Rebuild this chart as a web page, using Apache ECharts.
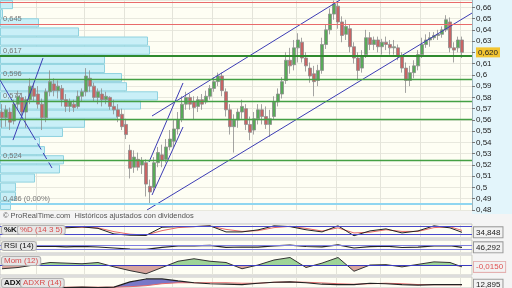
<!DOCTYPE html>
<html><head><meta charset="utf-8">
<script src="https://cdn.jsdelivr.net/npm/echarts@6/dist/echarts.min.js"></script>
<style>html,body{margin:0;padding:0;background:#f4f4f4}#c{width:512px;height:288px}</style>
</head><body><div id="c"></div>
<script>
// ---------- DATA ----------
// daily candles [open, close, low, high]
const candles = [
[.567,.562,.553,.574],[.562,.569,.554,.573],[.567,.558,.551,.571],[.559,.574,.556,.578],[.574,.581,.569,.586],
[.580,.567,.563,.584],[.567,.578,.553,.581],[.578,.590,.574,.597],[.588,.581,.576,.593],[.583,.574,.570,.590],
[.574,.562,.551,.579],[.562,.585,.558,.588],[.585,.594,.581,.604],[.592,.586,.581,.597],[.586,.590,.579,.595],
[.588,.578,.572,.591],[.578,.572,.567,.583],[.572,.576,.567,.579],[.574,.571,.567,.578],[.572,.581,.570,.586],
[.581,.585,.576,.588],[.585,.599,.581,.606],[.597,.590,.585,.604],[.590,.580,.576,.593],[.580,.585,.574,.588],
[.583,.578,.572,.588],[.578,.581,.574,.585],[.580,.572,.569,.581],[.572,.569,.565,.578],[.569,.563,.558,.574],
[.565,.554,.551,.570],[.556,.547,.543,.561],[.533,.517,.508,.538],[.518,.527,.513,.533],[.525,.518,.515,.531],
[.520,.524,.512,.527],[.522,.503,.492,.525],[.501,.496,.486,.507],[.500,.522,.496,.527],[.522,.531,.518,.536],
[.529,.524,.518,.538],[.525,.536,.522,.543],[.536,.543,.533,.551],[.541,.552,.536,.560],[.552,.560,.547,.567],
[.561,.574,.558,.581],[.574,.580,.569,.585],[.580,.574,.569,.583],[.576,.571,.560,.581],[.572,.578,.567,.581],
[.578,.574,.569,.583],[.576,.581,.574,.586],[.581,.588,.578,.591],[.588,.594,.585,.598],[.594,.599,.590,.602],
[.599,.586,.581,.602],[.585,.569,.563,.588],[.569,.554,.547,.574],[.554,.560,.531,.565],[.560,.567,.553,.570],
[.567,.572,.561,.578],[.570,.556,.551,.574],[.556,.549,.542,.563],[.551,.561,.547,.567],[.561,.569,.556,.574],
[.569,.563,.556,.574],[.563,.556,.552,.572],[.556,.561,.545,.569],[.563,.576,.560,.581],[.576,.583,.572,.588],
[.583,.594,.579,.598],[.595,.613,.592,.620],[.613,.608,.601,.624],[.609,.624,.604,.631],[.624,.631,.611,.637],
[.629,.615,.611,.633],[.615,.608,.603,.620],[.606,.599,.593,.611],[.601,.594,.581,.608],[.595,.604,.590,.609],
[.604,.627,.601,.633],[.627,.640,.623,.645],[.640,.654,.636,.659],[.654,.663,.649,.666],[.661,.647,.641,.665],
[.647,.635,.629,.652],[.636,.643,.631,.649],[.641,.625,.620,.645],[.625,.615,.610,.629],[.615,.604,.595,.620],
[.606,.617,.602,.622],[.618,.633,.615,.640],[.633,.627,.622,.638],[.627,.631,.622,.634],[.631,.625,.620,.634],
[.625,.629,.618,.632],[.629,.627,.622,.634],[.627,.624,.618,.631],[.624,.625,.618,.631],[.624,.617,.613,.627],
[.617,.606,.602,.620],[.606,.595,.584,.611],[.595,.602,.590,.608],[.602,.608,.597,.613],[.608,.618,.604,.622],
[.618,.627,.615,.633],[.627,.631,.624,.636],[.631,.633,.625,.638],[.633,.635,.631,.638],[.635,.636,.631,.640],
[.636,.640,.633,.643],[.640,.649,.638,.653],[.647,.624,.620,.651],[.624,.622,.611,.629],[.624,.631,.620,.634],
[.631,.620,.615,.634]
];
const dayCount = 118; // slots on the time axis (incl. 2 empty at the right)
const monthStart = [9,21,31,43,53,63,74,84,95,105,115];

// volume-by-price profile: bin lower edges (price) and volume per bin
const volBinLow = [0.4803,0.4884,0.4965,0.5046,0.5127,0.5208,0.5289,0.5370,0.5451,0.5532,0.5613,0.5694,
                   0.5775,0.5856,0.5937,0.6018,0.6099,0.6180,0.6261,0.6342,0.6423,0.6504,0.6585];
const volAmount = [11,16,16,35,60,64,45,40,63,85,117,141,158,127,122,105,105,150,148,79,39,3,13];

// support / resistance levels
const levelPrices = [0.6645, 0.645, 0.617, 0.596, 0.577, 0.561, 0.524, 0.4853];
const levelLabels = ['0,664', '0,645', '0,617', '0,596', '0,577', '', '0,524', '0,486 (0,00%)'];

// trend lines: [[dayIndex, price], [dayIndex, price]]
const trendLines = [
  [[-0.5,0.5954],[7.5,0.5475]],
  [[7.5,0.5475],[12.5,0.5173]],
  [[2.75,0.5421],[10.25,0.6150]],
  [[37.5,0.5635],[84.5,0.6665]],
  [[36.25,0.4800],[117.5,0.6549]],
  [[36.75,0.5226],[45.25,0.5928]],
  [[37.5,0.4933],[45.25,0.5537]]
];

// indicators sampled at these day indices
const indIdx = [0,4,8,12,16,20,24,28,32,36,40,44,48,52,56,60,64,68,72,76,80,84,88,92,96,100,104,108,112,115];
const stochK = [50,62,72,78,70,78,66,22,12,10,75,80,80,86,38,38,54,86,80,55,38,86,8,46,62,30,46,86,70,34.848];
const stochD = [52,58,66,74,73,75,70,40,20,14,48,72,80,84,58,42,48,72,82,66,45,70,30,36,55,42,42,72,78,50];
const rsi    = [48,52,56,58,52,56,50,40,28,26,46,60,62,66,46,50,48,62,68,55,52,72,40,54,58,45,48,62,64,46.292];
const mom    = [-0.03,-0.02,0,0.02,0.015,0.01,0.02,-0.015,-0.045,-0.07,-0.02,0.03,0.05,0.03,0.02,-0.03,0,0.04,0.06,
                -0.02,0.015,0.06,-0.05,0,0.003,-0.015,0.005,0.025,0.02,-0.015];
const adx    = [12.3,12.0,11.7,11.4,11.1,11.4,11.1,11.4,14.6,16.4,16.4,15.2,14.1,13.5,13.2,12.9,13.8,14.4,14.6,14.1,
                13.2,12.9,12.9,13.8,13.5,12.9,12.6,12.9,12.9,12.895];
const adxr   = [12.0,12.0,11.7,11.7,11.4,11.4,11.4,11.4,11.7,12.3,13.5,14.1,14.1,14.1,14.1,13.8,13.8,14.4,14.6,14.4,
                14.0,13.5,13.2,13.5,13.8,13.5,13.0,12.9,12.9,12.9];
const stochLevels = [80, 20];
const rsiLevels = [70, 30];

// ---------- CHART ----------
const FONT = 'Liberation Sans, Arial, sans-serif';
const fmt = (v, d) => v.toFixed(d).replace('.', ',');
const days = Array.from({length: dayCount}, (_, i) => 'D' + (i + 1));
const pair = arr => arr.map((v, j) => [indIdx[j], v]);
const PMIN = 0.48, PMAX = 0.6665;
const panelBg = '#fefef4';
const W = 472;
const lastClose = candles[candles.length - 1][1];
const MOM_TOP = 255, MOM_H = 20;
// band where ADX runs above ADXR (drawn as a stacked area on top of ADXR)
const adxBand = adx.map((v, i) => Math.max(v - adxr[i], 0));

const catAxis = (g) => ({
  type: 'category', gridIndex: g, data: days, boundaryGap: true,
  axisLine: {show: false}, axisTick: {show: false}, axisLabel: {show: false},
  splitLine: {show: true, interval: (i) => monthStart.includes(i), lineStyle: {color: '#e4e4da', width: 1}}
});
const hidY = (g, min, max) => ({type: 'value', gridIndex: g, min, max, show: false, splitLine: {show: false}});

const levelStyle = (i) => {
  if (i < 2) return {color: '#e86a6a', width: 1.2, type: 'solid'};
  if (i === 2) return {color: '#2f8a2f', width: 2, type: 'solid'};
  if (i === levelPrices.length - 1) return {color: '#8fd6f0', width: 2, type: 'solid'};
  return {color: '#44a044', width: 1.3, type: 'solid'};
};

const endBox = (d, color, border) => ({
  show: true, formatter: p => fmt(p.value[1], d), distance: 12,
  fontSize: 8, fontFamily: FONT, color: color, backgroundColor: '#f2f2f2',
  borderColor: border, borderWidth: 1, padding: [1, 2]
});
const tag = (t, color, bold) => ({text: t, fill: color, font: (bold ? 'bold ' : '') + '8px ' + FONT,
  backgroundColor: '#e6e6e6', borderColor: '#b0b0b0', borderWidth: 1, padding: [0, 2], borderRadius: 2});

const option = {
  animation: false,
  textStyle: {fontFamily: FONT},
  grid: [
    {left: 0, top: 0, width: W, height: 210, show: true, backgroundColor: panelBg, borderWidth: 0},
    {left: 0, top: 0, width: W, height: 210},
    {left: 0, top: 0, width: W, height: 210},
    {left: 0, top: 224, width: W, height: 14, show: true, backgroundColor: panelBg, borderColor: '#c4c4c4', borderWidth: 1},
    {left: 0, top: 240, width: W, height: 13, show: true, backgroundColor: panelBg, borderColor: '#c4c4c4', borderWidth: 1},
    {left: 0, top: MOM_TOP, width: W, height: MOM_H, show: true, backgroundColor: panelBg, borderColor: '#c4c4c4', borderWidth: 1},
    {left: 0, top: 277, width: W, height: 11, show: true, backgroundColor: panelBg, borderColor: '#c4c4c4', borderWidth: 1}
  ],
  xAxis: [
    catAxis(0),
    {type: 'value', gridIndex: 1, min: 0, max: W, show: false, splitLine: {show: false}},
    {type: 'value', gridIndex: 2, min: -0.5, max: dayCount - 0.5, show: false, splitLine: {show: false}},
    catAxis(3), catAxis(4), catAxis(5), catAxis(6)
  ],
  yAxis: [
    {type: 'value', gridIndex: 0, position: 'right', min: PMIN, max: PMAX, interval: 0.01,
     axisLine: {show: true, lineStyle: {color: '#9fb4bb'}},
     axisTick: {show: true, length: 3, lineStyle: {color: '#777'}},
     axisLabel: {fontSize: 8, color: '#222', margin: 4, showMaxLabel: false,
                 formatter: v => String(Math.round(v * 100) / 100).replace('.', ',')},
     splitLine: {show: true, lineStyle: {color: '#e8e8de'}}},
    {type: 'category', gridIndex: 1, data: volBinLow.map(v => fmt(v, 4)), boundaryGap: true, show: false},
    hidY(2, PMIN, PMAX),
    hidY(3, -10, 100.5), hidY(4, -10, 120), hidY(5, -0.08, 0.08), hidY(6, 10.9, 17.6)
  ],
  graphic: [
    {type: 'rect', z: -10, shape: {x: W, y: 0, width: 40, height: 214}, style: {fill: '#e3f5fb'}},
    {type: 'text', left: 3, top: 212, style: {text: '\u00a9 ProRealTime.com  Hist\u00f3ricos ajustados con dividendos', fill: '#555', font: '7.5px ' + FONT}},
    {type: 'text', left: 1, top: 225, z: 50, style: tag('%K', '#111', true)},
    {type: 'text', left: 17, top: 225, z: 50, style: tag('%D (14 3 5)', '#d84c4c')},
    {type: 'text', left: 1, top: 241, z: 50, style: tag('RSI (14)', '#111')},
    {type: 'text', left: 1, top: 256, z: 50, style: tag('Mom (12)', '#d84c4c')},
    {type: 'text', left: 1, top: 278, z: 50, style: tag('ADX', '#111', true)},
    {type: 'text', left: 20, top: 278, z: 50, style: tag('ADXR (14)', '#d84c4c')}
  ],
  series: [
    {type: 'bar', xAxisIndex: 1, yAxisIndex: 1, z: 1, data: volAmount, barCategoryGap: '0%', silent: true,
     itemStyle: {color: '#c9eff7', borderColor: '#8fd2df', borderWidth: 1}},
    {type: 'candlestick', xAxisIndex: 0, yAxisIndex: 0, z: 3, barWidth: 2.6, data: candles,
     itemStyle: {color: '#58aa58', color0: '#c86464', borderColor: '#8d8d8d', borderColor0: '#8d8d8d', borderWidth: 0.8}},
    {type: 'line', xAxisIndex: 2, yAxisIndex: 2, z: 2, data: [],
     markLine: {silent: true, symbol: 'none', animation: false, precision: 4,
       data: levelPrices.map((p, i) => ({
         yAxis: p, lineStyle: levelStyle(i),
         label: {show: levelLabels[i] !== '', formatter: levelLabels[i], position: 'insideStartTop',
                 color: '#777', fontSize: 7.5, fontFamily: FONT, distance: [3, 1]}
       }))}},
    // last price tag on the price axis
    {type: 'line', xAxisIndex: 2, yAxisIndex: 2, z: 6, data: [],
     markLine: {silent: true, symbol: 'none', animation: false, precision: 4,
       data: [{yAxis: lastClose}],
       lineStyle: {color: 'rgba(0,0,0,0)', width: 0},
       label: {show: true, position: 'end', formatter: fmt(lastClose, 3), distance: 4, fontSize: 8, fontFamily: FONT,
               color: '#222', backgroundColor: '#f2c431', padding: [1, 2], opacity: 1}}},
    ...trendLines.map((seg, i) => ({
      type: 'line', xAxisIndex: 2, yAxisIndex: 2, z: 4, data: seg, symbol: 'none', silent: true,
      lineStyle: {color: '#3c3cb4', width: 1, type: i === 1 ? [7, 4] : 'solid'}
    })),
    // stochastic
    {type: 'line', xAxisIndex: 3, yAxisIndex: 3, data: pair(stochD), symbol: 'none', z: 3,
     lineStyle: {color: '#e46a6a', width: 1}},
    {type: 'line', xAxisIndex: 3, yAxisIndex: 3, data: pair(stochK), symbol: 'none', z: 4,
     lineStyle: {color: '#222', width: 1}, endLabel: endBox(3, '#222', '#999'),
     markLine: {silent: true, symbol: 'none', label: {show: false}, precision: 4,
                lineStyle: {color: '#4848cc', width: 1, type: 'solid'}, data: stochLevels.map(v => ({yAxis: v}))}},
    // RSI
    {type: 'line', xAxisIndex: 4, yAxisIndex: 4, data: pair(rsi), symbol: 'none', z: 4,
     lineStyle: {color: '#222', width: 1.2}, endLabel: endBox(3, '#222', '#999'),
     markLine: {silent: true, symbol: 'none', label: {show: false}, precision: 4,
                lineStyle: {color: '#8080e0', width: 1, type: 'solid'}, data: rsiLevels.map(v => ({yAxis: v}))}},
    // Momentum: area split green / red at zero via a hard-stop gradient
    {type: 'line', xAxisIndex: 5, yAxisIndex: 5, data: pair(mom), symbol: 'none', z: 2,
     lineStyle: {opacity: 0},
     areaStyle: {opacity: 0.9, color: new echarts.graphic.LinearGradient(0, MOM_TOP, 0, MOM_TOP + MOM_H, [
       {offset: 0, color: '#93cf8d'}, {offset: 0.5, color: '#93cf8d'},
       {offset: 0.5, color: '#d39a93'}, {offset: 1, color: '#d39a93'}], true)}},
    {type: 'line', xAxisIndex: 5, yAxisIndex: 5, data: pair(mom), symbol: 'none', z: 4,
     lineStyle: {color: '#333', width: 1}, endLabel: endBox(4, '#e05050', '#e4b0b0'),
     markLine: {silent: true, symbol: 'none', label: {show: false}, precision: 4,
                lineStyle: {color: '#3c3cc0', width: 1, type: 'solid'}, data: [{yAxis: 0}]}},
    // ADX / ADXR with the band between them
    {type: 'line', xAxisIndex: 6, yAxisIndex: 6, data: pair(adxr), symbol: 'none', z: 3, stack: 'adx',
     lineStyle: {opacity: 0}},
    {type: 'line', xAxisIndex: 6, yAxisIndex: 6, data: pair(adxBand), symbol: 'none', z: 3, stack: 'adx',
     lineStyle: {opacity: 0}, areaStyle: {color: 'rgb(120,120,200)', opacity: 1}},
    {type: 'line', xAxisIndex: 6, yAxisIndex: 6, data: pair(adxr), symbol: 'none', z: 4,
     lineStyle: {color: '#e46a6a', width: 1}},
    {type: 'line', xAxisIndex: 6, yAxisIndex: 6, data: pair(adx), symbol: 'none', z: 5,
     lineStyle: {color: '#222', width: 1.2}, endLabel: endBox(3, '#222', '#999')}
  ]
};
const chart = echarts.init(document.getElementById('c'), null, {renderer: 'canvas'});
chart.setOption(option);
</script></body></html>
